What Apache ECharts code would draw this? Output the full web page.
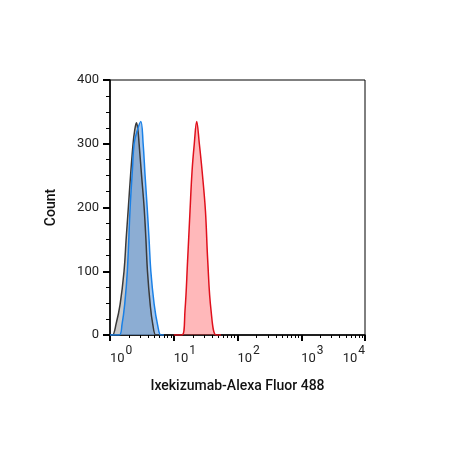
<!DOCTYPE html>
<html><head><meta charset="utf-8">
<script src="https://cdn.jsdelivr.net/npm/echarts@6/dist/echarts.min.js"></script>
<style>html,body{margin:0;padding:0;background:#fff}#c{width:452px;height:450px}</style>
</head><body><div id="c"></div>
<script>
// Fluorescence intensity (x) and event count (y)
const grayX  = [1.0, 1.09, 1.25, 1.44, 1.66, 1.79, 1.94, 2.10, 2.30, 2.43, 2.60, 2.75, 2.86, 3.13, 3.43, 3.66, 3.87, 4.27, 4.67, 5.25, 6.0];
const grayY  = [0,   0,    18,   48,   100,  150,  200,  250,  300,  320,  333,  320,  300,  250,  200,  150,  100,  48,   18,   0,    0];
const blueX  = [1.0, 1.39, 1.55, 1.70, 1.87, 2.07, 2.25, 2.39, 2.66, 3.04, 3.31, 3.55, 3.83, 4.1, 4.37, 4.93, 5.6, 6.29, 7.0];
const blueY  = [0,   0,    18,   48,   100,  200,  260,  300,  320,  335,  300,  250,  200,  150, 100,  48,   15,  0,    0];
const redX   = [10,  13.5, 15.0, 16.5, 18.0, 19.4, 21.0, 22.9, 25.2, 27.8, 31.4, 34.1, 38.5, 46.2, 55];
const redY   = [0,   0,    38,   117,  195,  258,  300,  335,  300,  258,  195,  117,  38,   0,    0];
const yTicks = [0, 100, 200, 300, 400];
const xDecades = [0, 1, 2, 3, 4];

const pairs = (xs, ys) => xs.map((x, i) => [x, ys[i]]);
const minorVals = [];
for (let d = 0; d < 4; d++) for (let k = 2; k <= 9; k++) minorVals.push(d + Math.log10(k));
const yMinor = [];
for (let i = 0; i < yTicks.length - 1; i++) for (let k = 1; k < 4; k++) yMinor.push(yTicks[i] + k * 25);

const chart = echarts.init(document.getElementById('c'), null, {renderer: 'canvas'});
const font = 'Roboto, "Noto Sans", sans-serif';
chart.setOption({
  animation: false,
  grid: {left: 110, right: 87, top: 80, bottom: 115, show: true, borderColor: '#000', borderWidth: 1, backgroundColor: 'transparent'},
  xAxis: [{
    type: 'log', logBase: 10, min: 1, max: 10000,
    name: 'Ixekizumab-Alexa Fluor 488', nameLocation: 'middle', nameGap: 44,
    nameTextStyle: {fontFamily: font, fontSize: 14, fontWeight: 500, color: '#111'},
    axisLine: {show: true, lineStyle: {color: '#000', width: 1.5}},
    axisTick: {show: true, inside: false, length: 6, lineStyle: {color: '#000', width: 2}},
    splitLine: {show: false},
    axisLabel: {
      margin: 8, align: 'left', alignMaxLabel: 'right',
      formatter: v => '{a|10}{s|' + Math.round(Math.log10(v)) + '}',
      rich: {
        a: {fontFamily: font, fontSize: 13, color: '#222', padding: [9, 0, 0, 0]},
        s: {fontFamily: font, fontSize: 12, color: '#222', padding: [0, 0, 7, 1]}
      }
    }
  }, {
    type: 'value', min: 0, max: 4, position: 'bottom', gridIndex: 0,
    axisLine: {show: false},
    axisTick: {show: true, inside: false, length: 3, customValues: minorVals, lineStyle: {color: '#000', width: 1}},
    axisLabel: {show: false},
    splitLine: {show: false}
  }],
  yAxis: [{
    type: 'value', min: 0, max: 400, interval: 100,
    name: 'Count', nameLocation: 'middle', nameGap: 52, nameRotate: 90,
    nameTextStyle: {fontFamily: font, fontSize: 14, fontWeight: 500, color: '#111'},
    axisLine: {show: true, lineStyle: {color: '#000', width: 1.5}},
    axisTick: {show: true, inside: false, length: 7, lineStyle: {color: '#000', width: 2}},
    splitLine: {show: false},
    axisLabel: {fontFamily: font, fontSize: 13, color: '#222', margin: 11}
  }, {
    type: 'value', min: 0, max: 400, position: 'left',
    axisLine: {show: false},
    axisTick: {show: true, inside: false, length: 4, customValues: yMinor, lineStyle: {color: '#000', width: 1}},
    axisLabel: {show: false},
    splitLine: {show: false}
  }],
  series: [{
    type: 'line', xAxisIndex: 0, data: pairs(grayX, grayY), smooth: 0.4, showSymbol: false,
    lineStyle: {color: '#3a3a3a', width: 1.5},
    areaStyle: {color: 'rgba(160,160,160,0.8)'}
  }, {
    type: 'line', xAxisIndex: 0, data: pairs(blueX, blueY), smooth: 0.4, showSymbol: false,
    lineStyle: {color: '#1a80e6', width: 1.5},
    areaStyle: {color: 'rgba(85,148,221,0.75)'}
  }, {
    type: 'line', xAxisIndex: 0, data: pairs(redX, redY), smooth: 0.4, showSymbol: false,
    lineStyle: {color: '#e0101c', width: 1.5},
    areaStyle: {color: 'rgba(255,70,75,0.55)'}
  }]
});
</script></body></html>
